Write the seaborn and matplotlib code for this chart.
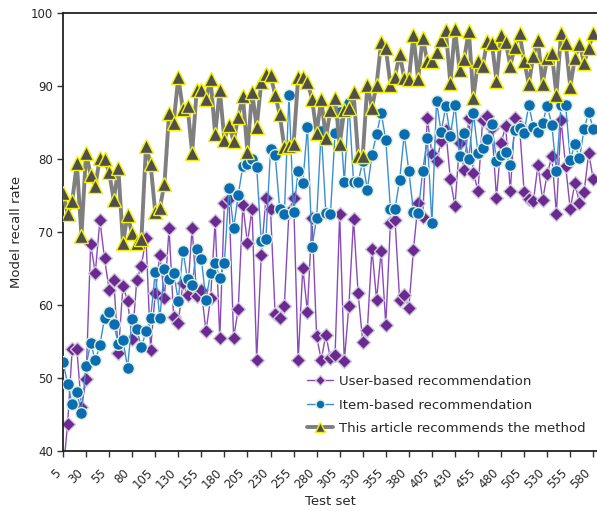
import numpy as np
import pandas as pd
import matplotlib
matplotlib.use("Agg")
import matplotlib.pyplot as plt
import seaborn as sns

test_set = list(range(5, 581, 5))

user_based = [
    37.0, 43.7, 54.0, 54.0, 46.0, 49.8, 68.3, 64.4, 71.6, 66.4,
    62.1, 63.4, 53.4, 62.6, 60.6, 55.3, 63.4, 65.4, 69.2, 53.9,
    61.6, 66.9, 61.0, 70.5, 58.3, 57.6, 63.0, 61.4, 70.5, 61.2,
    62.0, 56.4, 60.9, 71.5, 55.5, 74.0, 74.5, 55.5, 59.4, 73.7,
    68.5, 73.2, 52.5, 66.9, 74.6, 73.1, 58.7, 58.2, 59.9, 72.8,
    74.7, 52.4, 65.1, 59.1, 71.9, 55.7, 52.5, 55.9, 52.7, 53.2,
    72.5, 52.3, 59.9, 71.8, 61.6, 55.0, 56.6, 67.7, 60.7, 67.4,
    57.3, 71.2, 71.6, 60.7, 61.4, 59.6, 67.6, 74.0, 72.0, 85.6,
    80.7, 79.7, 82.4, 84.0, 77.2, 73.6, 82.2, 78.5, 85.6, 78.1,
    75.6, 85.4, 85.9, 84.2, 74.7, 82.2, 84.5, 75.6, 85.6, 84.5,
    75.5, 74.5, 74.2, 79.2, 74.4, 77.9, 80.4, 72.5, 85.4, 79.0,
    73.1, 76.7, 74.0, 75.5, 80.8, 77.2,
]

item_based = [
    52.2, 49.2, 46.4, 48.1, 45.2, 51.7, 54.8, 52.4, 54.5, 58.2,
    59.0, 57.4, 54.7, 55.2, 51.4, 58.1, 56.7, 54.2, 56.4, 58.2,
    64.5, 58.2, 65.0, 63.5, 64.4, 60.6, 67.4, 63.6, 62.8, 67.7,
    66.3, 60.7, 64.4, 65.8, 63.7, 65.8, 76.0, 70.5, 75.1, 79.0,
    79.3, 80.0, 78.9, 68.7, 69.0, 81.4, 80.6, 73.1, 72.5, 88.7,
    72.7, 78.4, 76.7, 84.4, 68.0, 71.9, 83.9, 72.6, 72.5, 83.6,
    86.5, 76.8, 87.7, 76.9, 76.8, 79.7, 75.8, 80.6, 83.4, 86.3,
    82.6, 73.2, 73.2, 77.1, 83.4, 78.3, 72.8, 72.6, 78.3, 82.9,
    71.2, 87.9, 83.7, 87.2, 83.2, 87.4, 80.4, 83.5, 80.0, 86.3,
    80.8, 81.5, 82.8, 84.8, 79.7, 80.6, 80.9, 79.2, 84.0, 84.2,
    83.6, 87.4, 84.4, 83.7, 84.9, 87.3, 84.7, 78.3, 87.4, 87.4,
    79.9, 82.0, 80.1, 84.1, 86.4, 84.1,
]

this_method = [
    75.4, 72.5, 74.2, 79.4, 69.5, 80.8, 77.8, 76.3, 80.2, 80.0,
    78.2, 74.4, 78.7, 68.5, 72.3, 69.8, 68.5, 69.0, 81.8, 79.3,
    72.7, 73.3, 76.6, 86.3, 85.0, 91.2, 86.8, 87.3, 80.8, 89.5,
    89.5, 88.2, 90.9, 83.4, 89.5, 82.6, 84.7, 82.4, 85.8, 88.6,
    80.9, 89.2, 84.4, 90.5, 91.7, 91.5, 88.8, 86.1, 81.6, 81.8,
    82.0, 91.3, 91.3, 90.6, 88.2, 83.6, 88.2, 82.9, 86.7, 88.4,
    82.0, 86.7, 87.0, 89.2, 80.4, 80.4, 90.2, 87.0, 90.2, 96.0,
    95.2, 90.2, 91.3, 94.4, 91.1, 90.9, 97.0, 90.9, 96.6, 93.4,
    93.4, 94.7, 96.3, 97.7, 90.4, 97.8, 92.2, 93.7, 97.6, 88.4,
    93.4, 92.7, 96.1, 95.9, 90.7, 97.0, 96.0, 92.8, 95.4, 97.3,
    93.4, 90.3, 94.1, 96.3, 90.3, 93.8, 94.5, 88.8, 97.2, 95.9,
    89.9, 93.8, 95.8, 93.2, 95.2, 97.3,
]

series_labels = [
    "User-based recommendation",
    "Item-based recommendation",
    "This article recommends the method",
]
x_tick_labels = list(range(5, 581, 25))
y_ticks = [40, 50, 60, 70, 80, 90, 100]

sns.set_style("white")
plt.rcParams["font.family"] = ["DejaVu Sans"]

fig = plt.figure(figsize=(5.97, 5.11), dpi=100)
ax = fig.add_axes([63 / 597, 60 / 511, 1 - 63 / 597, (451 - 13) / 511])

df = pd.DataFrame({
    "x": test_set,
    "user": user_based,
    "item": item_based,
    "ours": this_method,
})

sns.lineplot(data=df, x="x", y="user", ax=ax, color="#8a4bb8", linewidth=1.0,
             marker="D", markersize=7, markerfacecolor="#6a2a92",
             markeredgecolor="#cfc8d8", markeredgewidth=1.0,
             label=series_labels[0], zorder=2)
sns.lineplot(data=df, x="x", y="item", ax=ax, color="#3a8fd0", linewidth=1.0,
             marker="o", markersize=8.5, markerfacecolor="#0a6db3",
             markeredgecolor="#dcefd6", markeredgewidth=1.0,
             label=series_labels[1], zorder=3)
sns.lineplot(data=df, x="x", y="ours", ax=ax, color="#7f7f7f", linewidth=2.8,
             marker="^", markersize=9.5, markerfacecolor="#4f4f4f",
             markeredgecolor="#f2f200", markeredgewidth=1.0,
             label=series_labels[2], zorder=4)

ax.set_xlim(5, 584)
ax.set_ylim(40, 100)
ax.set_yticks(y_ticks)
ax.set_xticks(x_tick_labels)
ax.set_xticklabels([str(v) for v in x_tick_labels], rotation=45, ha="right",
                   va="top", rotation_mode="default", fontsize=8.5)
ax.tick_params(axis="y", labelsize=8.5, direction="out", length=4, width=1,
               left=True, color="#333333", pad=3)
ax.tick_params(axis="x", direction="out", length=4, width=1, bottom=True,
               color="#333333", pad=7)
ax.set_xlabel("Test set", fontsize=9.5, labelpad=3)
ax.set_ylabel("Model recall rate", fontsize=9.5, labelpad=6)

for side in ["left", "bottom", "top"]:
    ax.spines[side].set_visible(True)
    ax.spines[side].set_color("#222222")
    ax.spines[side].set_linewidth(1.3)
ax.spines["right"].set_visible(False)
ax.grid(False)

leg = ax.legend(loc="upper left", bbox_to_anchor=(307 / 597, 1 - 375 / 511),
                bbox_transform=fig.transFigure, frameon=False, fontsize=9.5,
                borderpad=0, borderaxespad=0, handlelength=2.0,
                handletextpad=0.4, labelspacing=0.8)
for h in leg.legend_handles:
    h.set_markersize(h.get_markersize() * 0.75)

fig.savefig("out.png", dpi=100)
